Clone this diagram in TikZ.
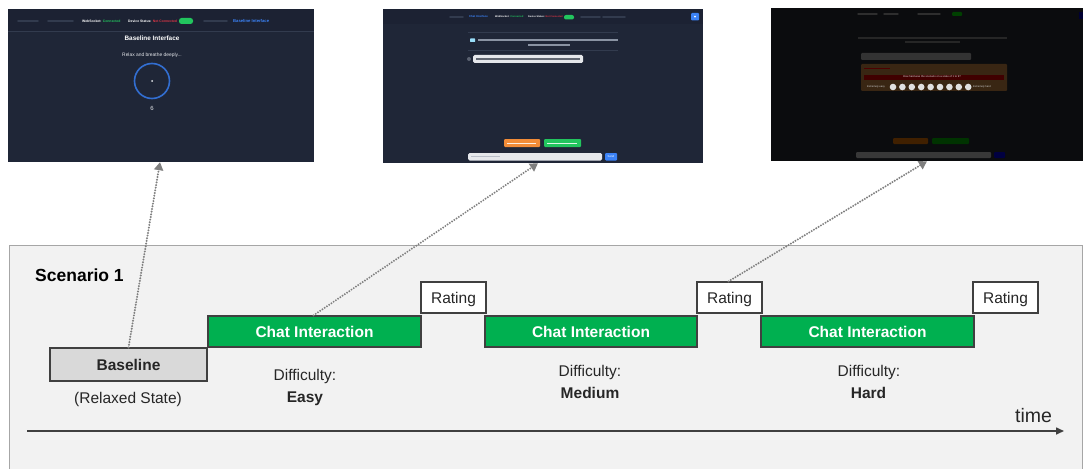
\documentclass[tikz,border=0pt]{standalone}
\usepackage{fontspec}
\setmainfont{Liberation Sans}
\usetikzlibrary{arrows.meta}
\definecolor{panelfill}{HTML}{F2F2F2}
\definecolor{panelline}{HTML}{A6A6A6}
\definecolor{boxline}{HTML}{404040}
\definecolor{chatgreen}{HTML}{00B050}
\definecolor{basegray}{HTML}{D9D9D9}
\definecolor{textdark}{HTML}{262626}
\definecolor{conngray}{HTML}{7F7F7F}
\definecolor{scrbg}{HTML}{1F2637}
\definecolor{scrnav}{HTML}{1C2233}
\definecolor{scrfaint}{HTML}{323B4E}
\definecolor{scrblue}{HTML}{3B82F6}
\definecolor{scrgreen}{HTML}{22C55E}
\definecolor{scrred}{HTML}{DC3545}
\definecolor{scrlight}{HTML}{E5E7EB}
\definecolor{scrgraytext}{HTML}{8A93A3}
\definecolor{scrorange}{HTML}{F28C38}
\definecolor{darkbg}{HTML}{0B0C0E}
\begin{document}
\begin{tikzpicture}[x=1pt,y=-1pt,
  box/.style={draw=boxline, line width=1.2pt, inner sep=0pt, text depth=0pt, font=\bfseries\fontsize{15.5}{18}\selectfont},
  chatbox/.style={box, fill=chatgreen, text=white, minimum width=213pt, minimum height=31pt},
  ratingbox/.style={box, fill=white, text=textdark, font=\fontsize{15.5}{18}\selectfont, minimum width=65pt, minimum height=31pt},
  basebox/.style={box, fill=basegray, text=textdark, minimum width=157pt, minimum height=33pt},
  lbl/.style={anchor=base, inner sep=0pt, text=textdark, font=\fontsize{15.5}{18}\selectfont},
  blbl/.style={lbl, font=\bfseries\fontsize{15.5}{18}\selectfont},
  conn/.style={draw=conngray, line width=2.2pt, line cap=round, dash pattern=on 0pt off 2.7pt, -{Triangle[width=9pt,length=8pt]}},
  shot/.style={inner sep=0pt, draw=none},
  tiny/.style={inner sep=0pt, anchor=west},
  fbar/.style={line width=1.6pt, line cap=round},
]
\useasboundingbox (0,0) rectangle (1083,468);
\fill[white] (0,0) rectangle (1083,468);

% ---------- screenshot 1 ----------
\node[shot, fill=scrbg, minimum width=306pt, minimum height=153pt] (shot1) at (161,85.5) {};
\fill[scrnav] (8,9) rectangle (314,31);
\draw[scrfaint, line width=0.4pt] (8,31) -- (314,31);
\draw[fbar, scrfaint] (18,21) -- (38,21);
\draw[fbar, scrfaint] (48,21) -- (73,21);
\draw[fbar, scrfaint] (204,21) -- (227,21);
\node[tiny, font=\bfseries\fontsize{3.4}{4}\selectfont] (ws1) at (82,21) {\textcolor{white}{WebSocket:} \textcolor{scrgreen}{Connected}};
\node[tiny, font=\bfseries\fontsize{3.4}{4}\selectfont] (ds1) at (128,21) {\textcolor{white}{Device Status:} \textcolor{scrred}{Not Connected}};
\fill[scrgreen, rounded corners=2.5pt] (179,18) rectangle (193,24);
\node[tiny, font=\bfseries\fontsize{4.2}{5}\selectfont, text=scrblue] (bi1) at (233,21) {Baseline Interface};
\node[inner sep=0pt, font=\bfseries\fontsize{6.4}{7}\selectfont, text=white] (t1) at (152,38) {Baseline Interface};
\node[inner sep=0pt, font=\fontsize{4.9}{6}\selectfont, text=scrlight] (t2) at (152,55) {Relax and breathe deeply...};
\draw[scrblue!85!black, line width=1.6pt] (152,81) circle (17.5);
\fill[scrlight] (152,81) circle (1);
\node[inner sep=0pt, font=\fontsize{6}{7}\selectfont, text=scrlight] (t3) at (152,108) {6};

% ---------- screenshot 2 ----------
\node[shot, fill=scrbg, minimum width=320pt, minimum height=154pt] (shot2) at (543,86) {};
\fill[scrnav] (383,9) rectangle (703,24);
\draw[fbar, scrfaint] (450,17) -- (463,17);
\node[tiny, font=\bfseries\fontsize{2.8}{3}\selectfont, text=scrblue] (ci2) at (469,17) {Chat Interface};
\node[tiny, font=\bfseries\fontsize{2.5}{3}\selectfont] (ws2) at (495,17) {\textcolor{white}{WebSocket:} \textcolor{scrgreen}{Connected}};
\node[tiny, font=\bfseries\fontsize{2.4}{3}\selectfont] (ds2) at (528,17) {\textcolor{white}{Device Status:} \textcolor{scrred}{Not Connected}};
\fill[scrgreen, rounded corners=2pt] (564,15) rectangle (574,19.5);
\draw[fbar, scrfaint] (581,17) -- (600,17);
\draw[fbar, scrfaint] (603,17) -- (625,17);
\fill[scrblue, rounded corners=1pt] (691,13) rectangle (699,20.5);
\fill[white] (695,16.7) circle (1);
\draw[scrfaint, line width=0.5pt] (468,32) -- (618,32);
\draw[scrfaint, line width=0.5pt] (468,50) -- (618,50);
\fill[cyan!40!white, rounded corners=0.5pt] (470,38.5) rectangle (475,42);
\draw[scrgraytext, line width=1.1pt] (478,40) -- (618,40);
\draw[scrgraytext, line width=1.1pt] (528,45) -- (570,45);
\fill[scrfaint!80!white] (469,59) circle (2);
\fill[scrlight, rounded corners=1.5pt] (473,55) rectangle (583,63);
\draw[scrgraytext!70!black, line width=1.1pt] (476,59) -- (580,59);
\fill[scrorange, rounded corners=1pt] (504,139) rectangle (540,147);
\draw[white!85!scrorange, line width=1pt] (507,143) -- (536,143);
\fill[scrgreen, rounded corners=1pt] (544,139) rectangle (581,147);
\draw[white!85!scrgreen, line width=1pt] (547,143) -- (577,143);
\fill[scrlight, rounded corners=1.5pt] (468,153) rectangle (602,160.5);
\draw[scrgraytext!60!white, line width=1pt] (471,156.7) -- (500,156.7);
\fill[scrblue, rounded corners=1pt] (605,153) rectangle (617,160.5);
\node[inner sep=0pt, font=\fontsize{2.8}{3}\selectfont, text=white] (snd) at (611,156.7) {Send};

% ---------- screenshot 3 ----------
\node[shot, fill=darkbg, minimum width=312pt, minimum height=153pt] (shot3) at (927,84.5) {};
\draw[fbar, black!82!white, line width=1.4pt] (858,14) -- (877,14);
\draw[fbar, black!82!white, line width=1.4pt] (884,14) -- (898,14);
\draw[fbar, black!82!white, line width=1.4pt] (918,14) -- (940,14);
\fill[green!25!black, rounded corners=1pt] (952,12) rectangle (962,16);
\fill[blue!20!black] (1079,12) rectangle (1083,19);
\draw[black!85!white, line width=1.1pt] (858,38) -- (1007,38);
\draw[black!85!white, line width=1.1pt] (905,42) -- (960,42);
\fill[black!80!white, rounded corners=1pt] (861,53) rectangle (971,60);
\fill[brown!30!black, rounded corners=1pt] (861,64) rectangle (1007,91);
\fill[red!25!black] (864,75.5) rectangle (1004,80.5);
\draw[red!30!black, line width=0.9pt] (864,68) -- (890,68);
\node[inner sep=0pt, font=\fontsize{2.7}{3}\selectfont, text=white!85!black] (q3) at (932,77) {How hard was the scenario on a scale of 1 to 9?};
\node[tiny, font=\fontsize{2.6}{3}\selectfont, text=white!80!black] (ee3) at (867,87) {Extremely easy};
\node[tiny, font=\fontsize{2.6}{3}\selectfont, text=white!80!black] (eh3) at (973,87) {Extremely hard};
\foreach \i in {0,...,8} {\fill[white!88!black] (893+\i*9.4,87) circle (3.3);}
\fill[orange!25!black, rounded corners=1pt] (893,138) rectangle (928,144);
\fill[green!20!black, rounded corners=1pt] (932,138) rectangle (969,144);
\fill[black!78!white, rounded corners=1pt] (856,152) rectangle (991,158);
\fill[blue!25!black, rounded corners=1pt] (994,152) rectangle (1005,158);

% ---------- panel ----------
\draw[panelline, fill=panelfill, line width=1pt] (9,245) rectangle (1082,480);
\node[anchor=base west, inner sep=0pt, text=black, font=\bfseries\fontsize{17.5}{20}\selectfont] (scen) at (35,281) {Scenario 1};

\node[basebox] (base) at (128.5,364.5) {Baseline};
\node[chatbox] (chat1) at (314.5,331.5) {Chat Interaction};
\node[chatbox, minimum width=212pt] (chat2) at (591,331.5) {Chat Interaction};
\node[chatbox] (chat3) at (867.5,331.5) {Chat Interaction};
\node[ratingbox] (rate1) at (453.5,297.5) {Rating};
\node[ratingbox] (rate2) at (729.5,297.5) {Rating};
\node[ratingbox] (rate3) at (1005.5,297.5) {Rating};

\node[lbl] (relax) at (128,403) {(Relaxed State)};
\node[lbl] (d1) at (305,380.5) {Difficulty:};
\node[blbl] (e1) at (305,402.5) {Easy};
\node[lbl] (d2) at (590,376.5) {Difficulty:};
\node[blbl] (e2) at (590,398.5) {Medium};
\node[lbl] (d3) at (869,376.5) {Difficulty:};
\node[blbl] (e3) at (868.5,398.5) {Hard};

\coordinate (axs) at (27,431);
\coordinate (axe) at (1064,431);
\draw[boxline, line width=1.5pt, -{Triangle[width=7pt,length=8pt]}] (axs) -- (axe);
\node[anchor=base west, inner sep=0pt, text=textdark, font=\fontsize{19.5}{22}\selectfont] (time) at (1015,422) {time};

% ---------- connectors ----------
\draw[conn] (base.north) -- ([xshift=-1pt]shot1.south);
\draw[conn] ([xshift=-1pt]chat1.north) -- ([xshift=-5pt]shot2.south);
\draw[conn] ([xshift=-1pt]rate2.north) -- (shot3.south);
\end{tikzpicture}
\end{document}
